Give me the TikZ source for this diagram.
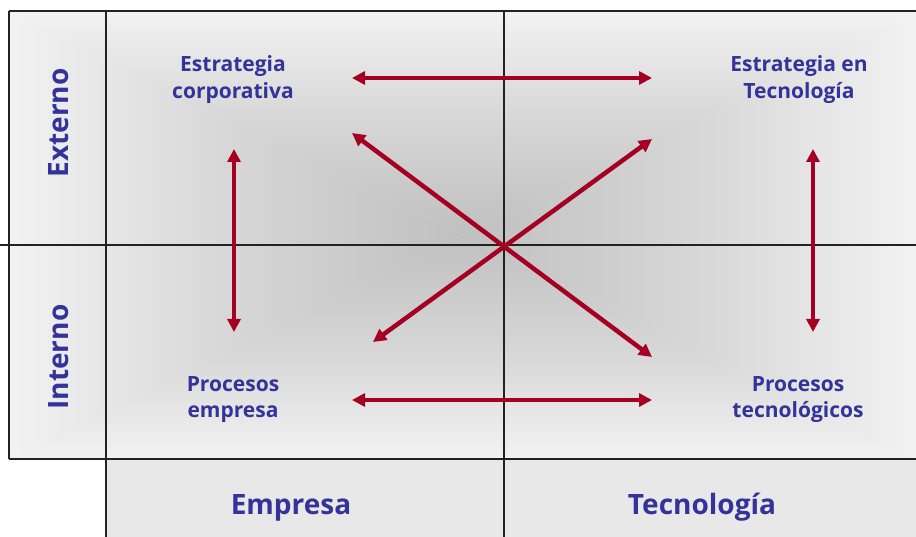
\documentclass[tikz,border=0pt]{standalone}
\usepackage{fontspec}
\setmainfont{Open Sans}
\usetikzlibrary{arrows.meta}
\definecolor{txtblue}{RGB}{51,51,153}
\definecolor{arrred}{RGB}{165,0,33}
\definecolor{gridline}{RGB}{34,34,34}
\definecolor{shlight}{RGB}{242,242,242}
\definecolor{shmid}{RGB}{214,214,214}
\definecolor{shdark}{RGB}{192,192,192}
\definecolor{bandfill}{RGB}{232,232,232}
\begin{document}
\begin{tikzpicture}[x=1pt,y=-1pt,
  lbl/.style={font=\bfseries\fontsize{21}{26.5}\selectfont, text=txtblue, align=center, inner sep=0pt, anchor=base},
  axislbl/.style={font=\bfseries\fontsize{28}{32}\selectfont, text=txtblue, inner sep=0pt, anchor=base},
  link/.style={draw=arrred, line width=4.5pt, {Triangle[length=13pt,width=13pt]}-{Triangle[length=13pt,width=13pt]}},
  gridrule/.style={draw=gridline, line width=1.4pt}]
\useasboundingbox (0,0) rectangle (916,537);
% background shading (rectangular gradient from centre)
\coordinate (c) at (462,235);
\shade[top color=shlight, bottom color=shdark, middle color=shmid] (9,11) -- (916,11) -- (c) -- cycle;
\shade[top color=shdark, bottom color=shlight, middle color=shmid] (9,459) -- (916,459) -- (c) -- cycle;
\shade[left color=shlight, right color=shdark, middle color=shmid] (9,11) -- (9,459) -- (c) -- cycle;
\shade[left color=shdark, right color=shlight, middle color=shmid] (916,11) -- (916,459) -- (c) -- cycle;
% bottom band
\fill[bandfill] (106,459) rectangle (916,537);
% grid
\draw[gridrule] (9,11) -- (916,11);
\draw[gridrule] (9,11) -- (9,459);
\draw[gridrule, line width=2.2pt] (9,459) -- (916,459);
\draw[gridrule] (106,11) -- (106,537);
\draw[gridrule] (504,11) -- (504,537);
\draw[gridrule] (0,245) -- (916,245);
% labels
\node[lbl] (ec) at (233,98.5) {Estrategia\\corporativa};
\node[lbl] (et) at (799,98.5) {Estrategia en\\Tecnología};
\node[lbl] (pe) at (233,417.5) {Procesos\\empresa};
\node[lbl] (pt) at (798,417.5) {Procesos\\tecnológicos};
\node[axislbl] (emp) at (291,514) {Empresa};
\node[axislbl] (tec) at (702,514) {Tecnología};
\node[axislbl, rotate=90] (ext) at (68,123) {Externo};
\node[axislbl, rotate=90] (int) at (68,357) {Interno};
% arrow end points
\coordinate (h1a) at (352,78);  \coordinate (h1b) at (652,78);
\coordinate (h2a) at (352,400); \coordinate (h2b) at (652,400);
\coordinate (v1a) at (234,149); \coordinate (v1b) at (234,332);
\coordinate (v2a) at (813,149); \coordinate (v2b) at (813,332);
\coordinate (d1a) at (352,133); \coordinate (d1b) at (652,357);
\coordinate (d2a) at (652,139); \coordinate (d2b) at (373,342);
\draw[link] (h1a) -- (h1b);
\draw[link] (h2a) -- (h2b);
\draw[link] (v1a) -- (v1b);
\draw[link] (v2a) -- (v2b);
\draw[link] (d1a) -- (d1b);
\draw[link] (d2a) -- (d2b);
\end{tikzpicture}
\end{document}
